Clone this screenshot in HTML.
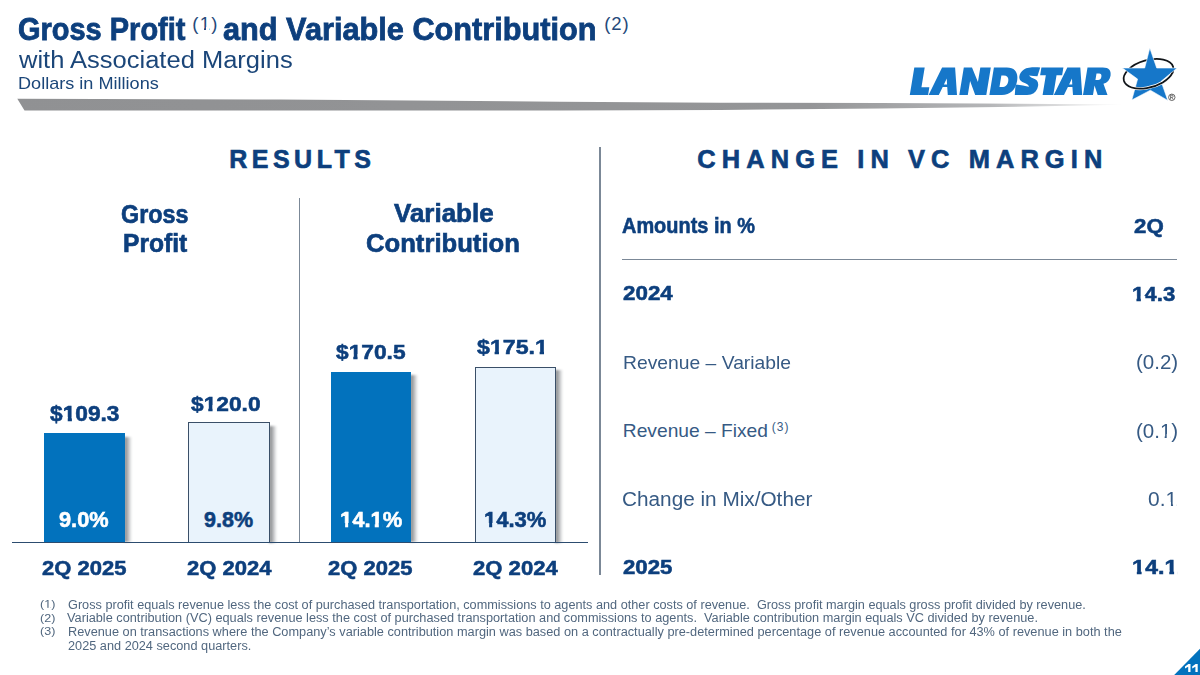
<!DOCTYPE html>
<html><head><meta charset="utf-8"><style>
html,body{margin:0;padding:0;background:#fff;}
body{width:1200px;height:675px;position:relative;overflow:hidden;font-family:"Liberation Sans", sans-serif;}
.t{position:absolute;white-space:nowrap;line-height:1.117;transform-origin:0 0;}
.ob,.or{position:relative}
.ob::before,.ob::after,.or::before,.or::after{content:'';position:absolute;background:var(--bg,#fff)}
.ob::before{left:0.015em;width:0.197em;bottom:0.13em;height:0.3em}
.ob::after{left:0.392em;width:0.19em;bottom:0.13em;height:0.3em}
.or::before{left:0.04em;width:0.2em;bottom:0.13em;height:0.24em}
.or::after{left:0.35em;width:0.18em;bottom:0.13em;height:0.24em}
</style></head><body>
<svg style="position:absolute;left:0;top:0" width="1200" height="130" viewBox="0 0 1200 130">
<defs><linearGradient id="sg" gradientUnits="userSpaceOnUse" x1="0" y1="0" x2="1125" y2="0">
<stop offset="0" stop-color="#909193"/><stop offset="0.72" stop-color="#949597"/><stop offset="0.88" stop-color="#b5b6b8"/><stop offset="1" stop-color="#ffffff"/></linearGradient></defs>
<polygon points="17.3,98.7 280,99.5 560,101.7 720,102.7 880,103.1 980,103.4 1122,104.4 1122,104.8 980,107.3 880,108.5 720,110.0 560,110.6 24.5,110.6" fill="url(#sg)"/>
</svg>
<svg style="position:absolute;left:880px;top:40px" width="320" height="70" viewBox="880 40 320 70">
<g transform="translate(909.8,94.9) skewX(-9.3)" fill="#1677c9">
<path d="M0,0 L0,-27.5 L10.4,-27.5 L10.4,-7.6 L18.3,-7.6 L18.3,0 Z"/><path d="M18.80,0.00 L27.80,-27.50 L40.80,-27.50 L47.20,0.00 L38.00,0.00 L36.10,-8.00 L31.60,-8.00 L29.00,0.00 Z M32.40,-10.50 L34.25,-16.50 L35.55,-10.50 Z" fill-rule="evenodd"/><path d="M49.5,0 L49.5,-27.5 L57.7,-27.5 L66,-13 L66,-27.5 L76.5,-27.5 L76.5,0 L65.4,0 L58,-14 L58,0 Z"/><path d="M79.6,0 L79.6,-27.5 L92.5,-27.5 C101,-27.5 105,-22 105,-14 C105,-5.5 100.5,0 92,0 Z M88.4,-19.3 L90.8,-19.3 C94.6,-19.3 96.2,-17 96.2,-13.6 C96.2,-10 94.4,-7.8 90.8,-7.8 L88.4,-7.8 Z" fill-rule="evenodd"/>
<path d="M125.9,-27.5 C120,-27.8 113,-27.8 110,-25.5 C107.5,-23.8 106.4,-21 106.5,-18.5 C106.6,-15 109,-13 113,-11.8 C115.5,-11 117,-9.8 118,-8.2 C114,-9 109,-10 104,-10.5 L105,0 C110,0.3 118,0.4 121,-0.5 C125,-1.8 126.8,-5 126.8,-9 C126.8,-13 124.5,-15.3 120.5,-16.6 C118.5,-17.3 117,-18.2 116.1,-19.4 C119,-19.1 122,-18.8 124.6,-18.6 Z"/>
<path d="M127.1,-27.5 L149.1,-27.5 L149.1,-19.7 L143.5,-19.7 L143.5,0 L132.8,0 L132.8,-19.7 L127.1,-19.7 Z"/><path d="M144.00,0.00 L153.00,-27.50 L166.00,-27.50 L172.40,0.00 L163.20,0.00 L161.30,-8.00 L156.80,-8.00 L154.20,0.00 Z M157.60,-10.50 L159.45,-16.50 L160.75,-10.50 Z" fill-rule="evenodd"/><path d="M173.2,0 L173.2,-27.5 L188.5,-27.5 C195,-27.5 197.6,-24 197.6,-19.2 C197.6,-15 195.5,-12.3 191.8,-11.2 L197.7,0 L187.9,0 L183.2,-9.3 L183.2,0 Z M183.2,-21.4 L185.8,-21.4 C187.6,-21.4 188.6,-20.2 188.6,-18.2 C188.6,-16.1 187.6,-14.9 185.8,-14.9 L183.2,-14.9 Z" fill-rule="evenodd"/>
</g>
<ellipse cx="1148.5" cy="73.8" rx="25.6" ry="13.6" transform="rotate(-16 1148.5 73.8)" fill="none" stroke="#101418" stroke-width="1.8"/>
<polygon points="1149.8,48 1156.7,68 1177.1,68 1161.1,81.3 1167.8,100.4 1150.4,90.2 1131.8,100 1137.6,79.1 1122.4,68 1144.7,68" fill="#1677c9" stroke="#fff" stroke-width="0.6"/>
<path d="M1123.89,80.86 A25.6,13.6 -16 0 0 1172.39,72.93" fill="none" stroke="#fff" stroke-width="3"/>
<path d="M1123.89,80.86 A25.6,13.6 -16 0 0 1172.39,72.93" fill="none" stroke="#101418" stroke-width="1.8"/>
<circle cx="1171.8" cy="97.3" r="3.2" fill="none" stroke="#444" stroke-width="0.8"/>
<path d="M1170.6,99.4 L1170.6,95.2 L1172.2,95.2 C1173.4,95.2 1173.4,97.4 1172.2,97.4 L1170.6,97.4 M1172,97.4 L1173.2,99.4" fill="none" stroke="#444" stroke-width="0.7"/>
</svg>
<div style="position:absolute;left:123.8px;top:436.6px;width:8px;height:105.9px;filter:blur(0.9px);background:linear-gradient(to right,#848689 0%,#a0a2a4 35%,#d6d7d9 70%,#fff 100%);"></div><div style="position:absolute;left:44.2px;top:433.1px;width:80.6px;height:109.4px;background:#0272bd"></div><div style="position:absolute;left:268.6px;top:425.5px;width:8px;height:117.0px;filter:blur(0.9px);background:linear-gradient(to right,#848689 0%,#a0a2a4 35%,#d6d7d9 70%,#fff 100%);"></div><div style="position:absolute;left:188.3px;top:422.0px;width:81.3px;height:120.5px;background:#e9f3fc;box-sizing:border-box;border:1.2px solid #3a4f68;border-bottom:none"></div><div style="position:absolute;left:410.0px;top:375.2px;width:8px;height:167.3px;filter:blur(0.9px);background:linear-gradient(to right,#848689 0%,#a0a2a4 35%,#d6d7d9 70%,#fff 100%);"></div><div style="position:absolute;left:330.7px;top:371.7px;width:80.3px;height:170.8px;background:#0272bd"></div><div style="position:absolute;left:554.8px;top:370.0px;width:8px;height:172.5px;filter:blur(0.9px);background:linear-gradient(to right,#848689 0%,#a0a2a4 35%,#d6d7d9 70%,#fff 100%);"></div><div style="position:absolute;left:475.0px;top:366.5px;width:80.8px;height:176.0px;background:#e9f3fc;box-sizing:border-box;border:1.2px solid #3a4f68;border-bottom:none"></div><div style="position:absolute;left:12px;top:541.8px;width:576px;height:1.6px;background:#2c4c6f"></div><div style="position:absolute;left:298.8px;top:198px;width:1.5px;height:344px;background:#7b8897"></div><div style="position:absolute;left:599.2px;top:147px;width:1.5px;height:427.5px;background:#7b8897"></div><div style="position:absolute;left:622px;top:258.6px;width:554.5px;height:1.5px;background:#7b8897"></div>
<div class="t" style="left:17.76px;top:13.30px;font-size:30.96px;color:#0d3f7d;font-weight:700;-webkit-text-stroke:0.80px #0d3f7d;transform:scaleX(0.9360);">Gross Profit</div><div class="t" style="left:223.30px;top:13.30px;font-size:30.96px;color:#0d3f7d;font-weight:700;-webkit-text-stroke:0.80px #0d3f7d;transform:scaleX(0.9920);">and Variable Contribution</div><div class="t" style="left:192.30px;top:14.20px;font-size:18.5px;color:#25497a;letter-spacing:1.200px;">(<span class="or">1</span>)</div><div class="t" style="left:604.30px;top:14.20px;font-size:18.5px;color:#25497a;letter-spacing:0.850px;">(2)</div><div class="t" style="left:19.00px;top:47.30px;font-size:23.28px;color:#1b4679;transform:scaleX(1.0964);">with Associated Margins</div><div class="t" style="left:17.61px;top:75.10px;font-size:16.55px;color:#1b4679;transform:scaleX(1.0945);">Dollars in Millions</div><div class="t" style="left:229.20px;top:145.70px;font-size:25.0px;color:#0d3f7d;font-weight:700;-webkit-text-stroke:0.65px #0d3f7d;letter-spacing:4.500px;">RESULTS</div><div class="t" style="left:697.30px;top:144.50px;font-size:25.44px;color:#0d3f7d;font-weight:700;-webkit-text-stroke:0.66px #0d3f7d;letter-spacing:6.089px;">CHANGE IN VC MARGIN</div><div class="t" style="left:121.08px;top:199.50px;font-size:25.44px;color:#0d3f7d;font-weight:700;-webkit-text-stroke:0.66px #0d3f7d;transform:scaleX(0.9167);">Gross</div><div class="t" style="left:122.83px;top:228.80px;font-size:25.44px;color:#0d3f7d;font-weight:700;-webkit-text-stroke:0.66px #0d3f7d;transform:scaleX(0.9667);">Profit</div><div class="t" style="left:393.50px;top:199.00px;font-size:25.44px;color:#0d3f7d;font-weight:700;-webkit-text-stroke:0.66px #0d3f7d;transform:scaleX(1.0206);">Variable</div><div class="t" style="left:366.42px;top:229.00px;font-size:26.16px;color:#0d3f7d;font-weight:700;-webkit-text-stroke:0.68px #0d3f7d;transform:scaleX(0.9806);">Contribution</div><div class="t" style="left:49.60px;top:402.00px;font-size:21.8px;color:#0d3f7d;font-weight:700;-webkit-text-stroke:0.57px #0d3f7d;transform:scaleX(1.0424);">$<span class="ob">1</span>09.3</div><div class="t" style="left:191.00px;top:391.50px;font-size:21.08px;color:#0d3f7d;font-weight:700;-webkit-text-stroke:0.55px #0d3f7d;transform:scaleX(1.0781);">$<span class="ob">1</span>20.0</div><div class="t" style="left:336.00px;top:340.30px;font-size:21.08px;color:#0d3f7d;font-weight:700;-webkit-text-stroke:0.55px #0d3f7d;transform:scaleX(1.0781);">$<span class="ob">1</span>70.5</div><div class="t" style="left:477.00px;top:335.40px;font-size:21.08px;color:#0d3f7d;font-weight:700;-webkit-text-stroke:0.55px #0d3f7d;transform:scaleX(1.0984);">$<span class="ob">1</span>75.<span class="ob">1</span></div><div class="t" style="left:59.30px;top:508.10px;font-size:21.51px;color:#ffffff;font-weight:700;-webkit-text-stroke:0.56px #ffffff;transform:scaleX(1.0122);">9.0%</div><div class="t" style="left:204.00px;top:508.10px;font-size:21.51px;color:#0d3f7d;font-weight:700;-webkit-text-stroke:0.56px #0d3f7d;transform:scaleX(1.0000);">9.8%</div><div class="t" style="left:339.68px;top:508.30px;font-size:21.51px;color:#ffffff;font-weight:700;-webkit-text-stroke:0.56px #ffffff;transform:scaleX(1.0217);"><span class="ob" style="--bg:#0272bd">1</span>4.<span class="ob" style="--bg:#0272bd">1</span>%</div><div class="t" style="left:484.28px;top:508.30px;font-size:21.51px;color:#0d3f7d;font-weight:700;-webkit-text-stroke:0.56px #0d3f7d;transform:scaleX(1.0233);"><span class="ob" style="--bg:#e9f3fc">1</span>4.3%</div><div class="t" style="left:42.20px;top:556.70px;font-size:20.35px;color:#0d3f7d;font-weight:700;-webkit-text-stroke:0.53px #0d3f7d;transform:scaleX(1.0833);">2Q 2025</div><div class="t" style="left:187.00px;top:556.70px;font-size:20.35px;color:#0d3f7d;font-weight:700;-webkit-text-stroke:0.53px #0d3f7d;transform:scaleX(1.0833);">2Q 2024</div><div class="t" style="left:328.30px;top:556.70px;font-size:20.35px;color:#0d3f7d;font-weight:700;-webkit-text-stroke:0.53px #0d3f7d;transform:scaleX(1.0821);">2Q 2025</div><div class="t" style="left:473.30px;top:556.70px;font-size:20.35px;color:#0d3f7d;font-weight:700;-webkit-text-stroke:0.53px #0d3f7d;transform:scaleX(1.0859);">2Q 2024</div><div class="t" style="left:622.40px;top:214.50px;font-size:21.37px;color:#0d3f7d;font-weight:700;-webkit-text-stroke:0.56px #0d3f7d;transform:scaleX(0.9331);">Amounts in %</div><div class="t" style="left:1133.90px;top:214.50px;font-size:20.06px;color:#0d3f7d;font-weight:700;-webkit-text-stroke:0.52px #0d3f7d;transform:scaleX(1.1115);">2Q</div><div class="t" style="left:622.80px;top:282.40px;font-size:20.06px;color:#0d3f7d;font-weight:700;-webkit-text-stroke:0.52px #0d3f7d;transform:scaleX(1.1156);">2024</div><div class="t" style="left:1132.09px;top:282.80px;font-size:20.06px;color:#0d3f7d;font-weight:700;-webkit-text-stroke:0.52px #0d3f7d;transform:scaleX(1.1079);"><span class="ob">1</span>4.3</div><div class="t" style="left:622.80px;top:352.30px;font-size:19.22px;color:#365a84;transform:scaleX(1.0048);">Revenue – Variable</div><div class="t" style="left:1135.58px;top:351.30px;font-size:20.06px;color:#365a84;transform:scaleX(1.0231);">(0.2)</div><div class="t" style="left:622.80px;top:420.20px;font-size:19.22px;color:#365a84;transform:scaleX(1.0000);">Revenue – Fixed</div><div class="t" style="left:771.80px;top:421.00px;font-size:12px;color:#365a84;letter-spacing:1.000px;">(3)</div><div class="t" style="left:1135.58px;top:419.80px;font-size:20.06px;color:#365a84;transform:scaleX(1.0231);">(0.<span class="or">1</span>)</div><div class="t" style="left:621.76px;top:487.70px;font-size:19.92px;color:#365a84;transform:scaleX(1.0429);">Change in Mix/Other</div><div class="t" style="left:1147.76px;top:487.50px;font-size:20.06px;color:#365a84;transform:scaleX(1.0435);">0.<span class="or">1</span></div><div class="t" style="left:622.80px;top:556.10px;font-size:20.2px;color:#0d3f7d;font-weight:700;-webkit-text-stroke:0.53px #0d3f7d;transform:scaleX(1.1000);">2025</div><div class="t" style="left:1131.60px;top:557.00px;font-size:19.48px;color:#0d3f7d;font-weight:700;-webkit-text-stroke:0.51px #0d3f7d;transform:scaleX(1.2029);"><span class="ob">1</span>4.<span class="ob">1</span></div><div class="t" style="left:39.94px;top:598.00px;font-size:11.8px;color:#51677f;transform:scaleX(1.0615);">(<span class="or">1</span>)</div><div class="t" style="left:39.94px;top:611.50px;font-size:11.8px;color:#51677f;transform:scaleX(1.0615);">(2)</div><div class="t" style="left:39.94px;top:625.00px;font-size:11.8px;color:#51677f;transform:scaleX(1.0615);">(3)</div><div class="t" style="left:68.38px;top:598.90px;font-size:12.48px;color:#51677f;transform:scaleX(1.0184);">Gross profit equals revenue less the cost of purchased transportation, commissions to agents and other costs of revenue.&nbsp; Gross profit margin equals gross profit divided by revenue.</div><div class="t" style="left:67.00px;top:612.40px;font-size:12.48px;color:#51677f;transform:scaleX(1.0216);">Variable contribution (VC) equals revenue less the cost of purchased transportation and commissions to agents.&nbsp; Variable contribution margin equals VC divided by revenue.</div><div class="t" style="left:68.28px;top:625.90px;font-size:12.48px;color:#51677f;transform:scaleX(1.0227);">Revenue on transactions where the Company’s variable contribution margin was based on a contractually pre-determined percentage of revenue accounted for 43% of revenue in both the</div><div class="t" style="left:68.38px;top:639.60px;font-size:12.48px;color:#51677f;transform:scaleX(1.0209);">2025 and 2024 second quarters.</div>
<svg style="position:absolute;left:1170px;top:645px" width="30" height="30" viewBox="1170 645 30 30">
<polygon points="1174.2,675 1200,648.8 1200,675" fill="#0272bd"/>
<path d="M1185,666.4 L1188.4,663.9 L1190.5,663.9 L1190.5,672 L1188.2,672 L1188.2,666.8 L1185,668.6 Z M1192.2,666.4 L1195.6,663.9 L1197.7,663.9 L1197.7,672 L1195.4,672 L1195.4,666.8 L1192.2,668.6 Z" fill="#fff"/>
</svg>
</body></html>
